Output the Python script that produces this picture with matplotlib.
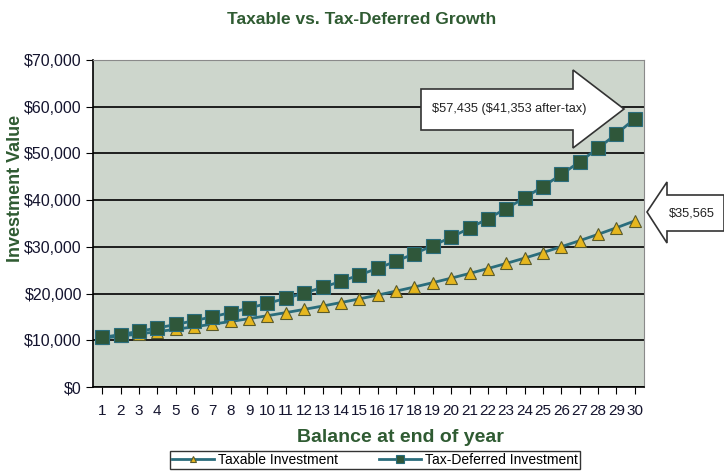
import matplotlib
matplotlib.use("Agg")
import matplotlib.pyplot as plt
from matplotlib.patches import Polygon

# data
years = list(range(1, 31))
taxable = [10432, 10883, 11353, 11843, 12355, 12889, 13445, 14026, 14632, 15264,
           15924, 16612, 17329, 18078, 18859, 19674, 20524, 21410, 22335, 23300,
           24307, 25357, 26452, 27595, 28787, 30031, 31328, 32681, 34093, 35565]
deferred = [10600, 11236, 11910, 12625, 13382, 14185, 15036, 15938, 16895, 17908,
            18983, 20122, 21329, 22609, 23966, 25404, 26928, 28543, 30256, 32071,
            33996, 36035, 38197, 40489, 42919, 45494, 48223, 51117, 54184, 57435]
yticks = list(range(0, 70001, 10000))
ytick_labels = ["$%s" % format(v, ",") for v in yticks]
deferred_note = "$57,435 ($41,353 after-tax)"
taxable_note = "$35,565"

plt.rcParams["font.family"] = ["Liberation Sans", "DejaVu Sans"]
plt.rcParams["text.parse_math"] = False
green = "#2f5b32"
line_col = "#2a6d7c"
ink = "#14142e"

W, H = 724, 473
fig = plt.figure(figsize=(W / 100, H / 100), dpi=100)
ax = fig.add_axes([93 / W, 1 - 387 / H, (644 - 93) / W, (387 - 60) / H])
ax.set_facecolor("#cdd6cc")

ax.plot(years, taxable, color=line_col, lw=2, marker="^", ms=9,
        mfc="#e6b71e", mec="#5a5a2a", mew=0.8, label="Taxable Investment", zorder=3)
ax.plot(years, deferred, color=line_col, lw=2, marker="s", ms=10,
        mfc="#2f573a", mec=line_col, mew=0.8, label="Tax-Deferred Investment", zorder=4)

ax.set_xlim(0.5, 30.5)
ax.set_ylim(0, 70000)
ax.set_xticks(years)
ax.set_xticklabels([str(y) for y in years], fontsize=11, color=ink)
ax.set_yticks(yticks)
ax.set_yticklabels(ytick_labels, fontsize=11.5, color=ink)
ax.grid(axis="y", color="black", lw=1.2)
ax.set_axisbelow(True)
ax.tick_params(axis="both", direction="out", length=5, color="black", pad=3)
ax.tick_params(axis="x", pad=7)
for s in ["top", "right"]:
    ax.spines[s].set_color("#8a8a8a")
for s in ["left", "bottom"]:
    ax.spines[s].set_color("black")
    ax.spines[s].set_linewidth(1.2)

fig.text(400 / W, 1 - 437 / H, "Balance at end of year", ha="center", va="center",
         fontsize=14, fontweight="bold", color=green)
fig.text(16 / W, 1 - 188 / H, "Investment Value", ha="center", va="center", rotation=90,
         fontsize=13, fontweight="bold", color=green)
fig.text(0.5, 1 - 20 / H, "Taxable vs. Tax-Deferred Growth", ha="center", va="center",
         fontsize=12.5, fontweight="bold", color=green)

leg = fig.legend(loc="upper center", bbox_to_anchor=(375 / W, 1 - 451 / H), ncol=2,
                 prop={"size": 10}, frameon=True, fancybox=False,
                 borderpad=0.15, handlelength=3, columnspacing=3, handletextpad=0.3,
                 markerscale=0.55, borderaxespad=0)
leg.get_frame().set_edgecolor("black")
leg.get_frame().set_linewidth(1)


def px(pts):
    return [(x / W, 1 - y / H) for x, y in pts]


arrow1 = px([(421, 89), (573, 89), (573, 70), (624, 109), (573, 148), (573, 130), (421, 130)])
arrow2 = px([(724, 195), (667, 195), (667, 182), (647, 212), (667, 243), (667, 231), (724, 231)])
for pts in (arrow1, arrow2):
    fig.patches.append(Polygon(pts, closed=True, facecolor="white", edgecolor="#333333",
                               lw=1.2, transform=fig.transFigure, figure=fig, zorder=5))
fig.text(509 / W, 1 - 109 / H, deferred_note, ha="center", va="center",
         fontsize=9.2, color="#222222", zorder=6)
fig.text(692 / W, 1 - 213 / H, taxable_note, ha="center", va="center",
         fontsize=9.2, color="#222222", zorder=6)

fig.savefig("out.png", dpi=100)
